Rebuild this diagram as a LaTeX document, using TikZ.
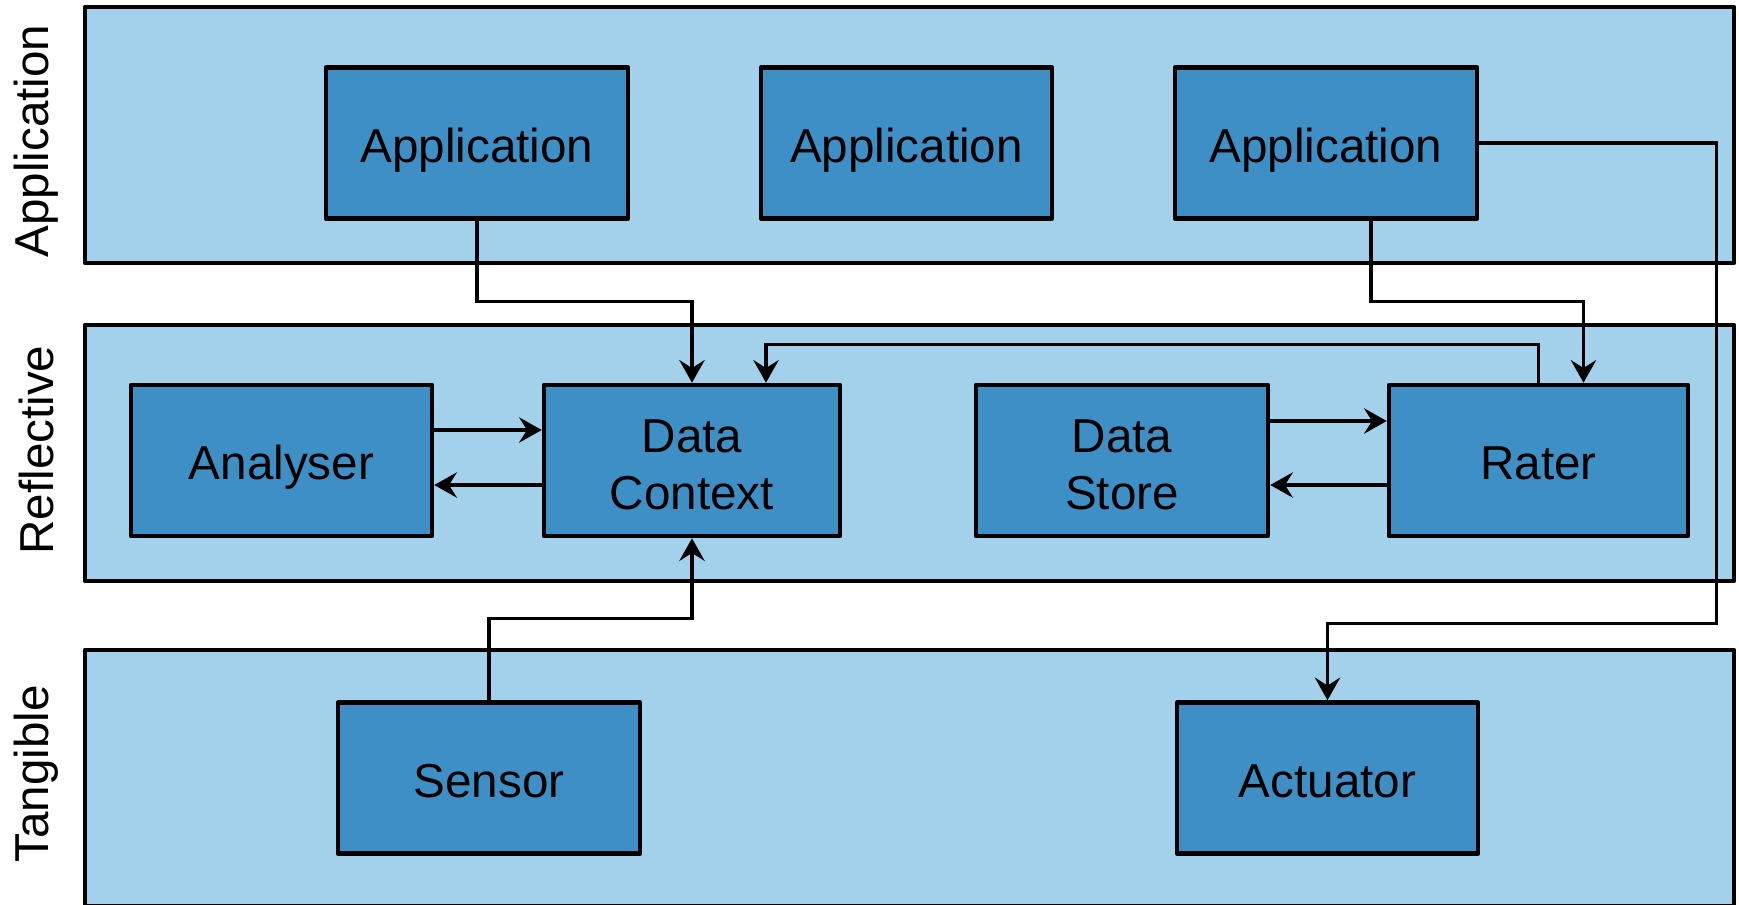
\documentclass[tikz,border=0pt]{standalone}
\usepackage{fontspec}
\setmainfont{Liberation Sans}
\usetikzlibrary{arrows.meta,calc}
\definecolor{layerfill}{RGB}{163,208,234}
\definecolor{boxfill}{RGB}{62,143,197}
\begin{document}
\begin{tikzpicture}[x=0.75pt,y=-0.75pt,
  layerbox/.style={draw=black,fill=layerfill,line width=3.4pt,line join=round,minimum width=1649*0.75pt,minimum height=256*0.75pt,inner sep=0pt},
  compbox/.style={draw=black,fill=boxfill,line width=3.4pt,line join=round,minimum height=151*0.75pt,inner sep=0pt,align=center,font=\fontsize{35.7pt}{43pt}\selectfont,text height=28.5pt,text depth=0pt},
  twoline/.style={text height=74pt,text depth=0pt},
  sidelabel/.style={rotate=90,inner sep=0pt,font=\fontsize{35.7pt}{43pt}\selectfont},
  conn/.style={draw=black,line width=2.5pt,-{Stealth[length=17pt,width=19pt,inset=6pt]}}]
\useasboundingbox (0,0) rectangle (1739,904);
\clip (0,0) rectangle (1739,904);
% layers
\node[layerbox] (layA) at (909.5,135) {};
\node[layerbox] (layR) at (909.5,453) {};
\node[layerbox] (layT) at (909.5,778) {};
% side labels
\node[sidelabel] (labA) at (36.5,141) {Application};
\node[sidelabel] (labR) at (36.5,450) {Reflective};
\node[sidelabel] (labT) at (36.5,774) {Tangible};
% components
\node[compbox,minimum width=302*0.75pt] (app1) at (477,143) {Application};
\node[compbox,minimum width=291*0.75pt] (app2) at (906.5,143) {Application};
\node[compbox,minimum width=302*0.75pt] (app3) at (1326,143) {Application};
\node[compbox,minimum width=301*0.75pt] (an) at (281.5,460.5) {Analyser};
\node[compbox,twoline,minimum width=296*0.75pt] (dc) at (692,460.5) {Data\\Context};
\node[compbox,twoline,minimum width=292*0.75pt] (ds) at (1122,460.5) {Data\\Store};
\node[compbox,minimum width=299*0.75pt] (rater) at (1538.5,460.5) {Rater};
\node[compbox,minimum width=302*0.75pt] (sen) at (489,778) {Sensor};
\node[compbox,minimum width=301*0.75pt] (act) at (1327.5,778) {Actuator};
% connectors
\draw[conn] (app1.south) -- ++(0,81) -| (dc.north);
\draw[conn] ($(app3.south)+(45,0)$) -- ++(0,81) -| ($(rater.north)+(45,0)$);
\draw[conn] (rater.north) -- ++(0,-38) -| ($(dc.north)+(74,0)$);
\draw[conn] (app3.east) -- ++(237,0) |- ($(act.north)+(0,-77)$) -- (act.north);
\draw[conn] ($(an.east)+(0,-30.5)$) -- ($(dc.west)+(0,-30.5)$);
\draw[conn] ($(dc.west)+(0,24.5)$) -- ($(an.east)+(0,24.5)$);
\draw[conn] ($(ds.east)+(0,-39.5)$) -- ($(rater.west)+(0,-39.5)$);
\draw[conn] ($(rater.west)+(0,24.5)$) -- ($(ds.east)+(0,24.5)$);
\draw[conn] (sen.north) -- ++(0,-82) -| (dc.south);
\end{tikzpicture}
\end{document}
